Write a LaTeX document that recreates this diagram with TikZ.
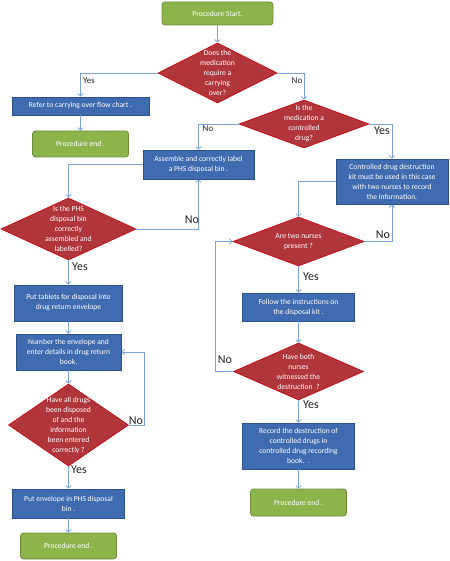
\documentclass[tikz,border=0pt]{standalone}
\usepackage{fontspec}
\setmainfont{Carlito}
\usetikzlibrary{shapes.geometric,arrows.meta}
\definecolor{gfill}{HTML}{8DB44B}
\definecolor{gline}{HTML}{6E8A3C}
\definecolor{bfill}{HTML}{3F6CB0}
\definecolor{bline}{HTML}{2E5088}
\definecolor{rfill}{HTML}{B0363B}
\definecolor{rline}{HTML}{C8101A}
\definecolor{cline}{HTML}{7CA2DA}
\definecolor{lbl}{HTML}{222222}
\begin{document}
\begin{tikzpicture}[x=1pt,y=-1pt,
  btext/.style={text=white,font=\fontsize{7.6}{10}\selectfont,align=center},
  termbox/.style={btext,draw=gline,fill=gfill,rounded corners=3pt,line width=0.8pt,inner sep=0pt},
  procbox/.style={btext,draw=bline,fill=bfill,line width=0.8pt,inner sep=0pt},
  decbox/.style={diamond,draw=rline,fill=rfill,line width=0.8pt,inner sep=0pt},
  dtext/.style={btext,inner sep=0pt},
  conn/.style={draw=cline,line width=0.8pt,-{Straight Barb[length=2.5pt,width=5.5pt]}},
  smalllbl/.style={text=lbl,font=\fontsize{9}{10}\selectfont,inner sep=0pt},
  biglbl/.style={text=lbl,font=\fontsize{12}{13}\selectfont,inner sep=0pt}]
\useasboundingbox (0,0) rectangle (449,561);
% terminals
\node[termbox,minimum width=111pt,minimum height=23pt] (start) at (217.5,13.5) {Procedure Start.};
\node[termbox,minimum width=96pt,minimum height=26pt] (end1) at (80.5,144) {Procedure end .};
\node[termbox,minimum width=96pt,minimum height=26pt] (end2) at (68.5,546) {Procedure end .};
\node[termbox,minimum width=96pt,minimum height=27pt] (end3) at (298.5,502.5) {Procedure end .};
% decisions
\node[decbox,minimum width=119pt,minimum height=60pt,label={[dtext]center:{Does the\\medication\\require a\\carrying\\over?}}] (d1) at (217.5,73) {};
\node[decbox,minimum width=130pt,minimum height=48pt,label={[dtext]center:{Is the\\medication a\\controlled\\drug?}}] (d2) at (304,124) {};
\node[decbox,minimum width=135pt,minimum height=62pt,label={[dtext]center:{Is the PHS\\disposal bin\\correctly\\assembled and\\labelled?}}] (d3) at (68.5,229) {};
\node[decbox,minimum width=131pt,minimum height=49pt,label={[dtext]center:{Are two nurses\\present ?}}] (d4) at (298.5,241.5) {};
\node[decbox,minimum width=130pt,minimum height=57pt,label={[dtext]center:{Have both\\nurses\\witnessed the\\destruction\ \ ?}}] (d5) at (298.5,371.5) {};
\node[decbox,minimum width=120pt,minimum height=82pt,label={[dtext]center:{Have all drugs\\been disposed\\of and the\\information\\been entered\\correctly ?}}] (d6) at (68.5,425) {};
% process boxes
\node[procbox,minimum width=137pt,minimum height=18pt] (refer) at (80.5,106) {Refer to carrying over flow chart .};
\node[procbox,minimum width=111pt,minimum height=29pt] (assemble) at (198.5,164.5) {Assemble and correctly label\\a PHS disposal bin .};
\node[procbox,minimum width=112pt,minimum height=45pt] (ctrl) at (392,181.5) {Controlled drug destruction\\kit must be used in this case\\with two nurses to record\\the information.};
\node[procbox,minimum width=108pt,minimum height=36pt] (tablets) at (68.5,303) {Put tablets for disposal into\\drug return envelope};
\node[procbox,minimum width=105pt,minimum height=36pt] (number) at (68.5,352) {Number the envelope and\\enter details in drug return\\book.};
\node[procbox,minimum width=112pt,minimum height=29pt] (envelope) at (68.5,503.5) {Put envelope in PHS disposal\\bin .};
\node[procbox,minimum width=112pt,minimum height=28pt] (follow) at (298.5,307) {Follow the instructions on\\the disposal kit .};
\node[procbox,minimum width=112pt,minimum height=46pt] (record) at (298.5,446) {Record the destruction of\\controlled drugs in\\controlled drug recording\\book.\ \ .};
% connectors
\draw[conn] (start.south) -- (d1.north);
\draw[conn] (d1.west) -| (refer.north);
\draw[conn] (d1.east) -| (d2.north);
\draw[conn] (refer.south) -- (end1.north);
\draw[conn] (d2.west) -| (assemble.north);
\draw[conn] (d2.east) -| (ctrl.north);
\draw[conn] (assemble.west) -| (d3.north);
\draw[conn] (d3.east) -| (assemble.south);
\draw[conn] (d3.south) -- (tablets.north);
\draw[conn] (tablets.south) -- (number.north);
\draw[conn] (number.south) -- (d6.north);
\draw[conn] (d6.east) -- ++(15,0) |- (number.east);
\draw[conn] (d6.south) -- (envelope.north);
\draw[conn] (envelope.south) -- (end2.north);
\draw[conn] (ctrl.west) -| (d4.north);
\draw[conn] (d4.east) -| (ctrl.south);
\draw[conn] (d4.south) -- (follow.north);
\draw[conn] (follow.south) -- (d5.north);
\draw[conn] (d5.west) -- ++(-18,0) |- (d4.west);
\draw[conn] (d5.south) -- (record.north);
\draw[conn] (record.south) -- (end3.north);
% labels
\node[smalllbl] (l1) at (89,81) {Yes};
\node[smalllbl] (l2) at (297,81) {No};
\node[smalllbl] (l3) at (208,129) {No};
\node[biglbl] (l4) at (382,131) {Yes};
\node[biglbl] (l5) at (192,220) {No};
\node[biglbl] (l6) at (80,267) {Yes};
\node[biglbl] (l7) at (383,235) {No};
\node[biglbl] (l8) at (311,277) {Yes};
\node[biglbl] (l9) at (225,360) {No};
\node[biglbl] (l10) at (311,405) {Yes};
\node[biglbl] (l11) at (136,421) {No};
\node[biglbl] (l12) at (79,470) {Yes};
\end{tikzpicture}
\end{document}
